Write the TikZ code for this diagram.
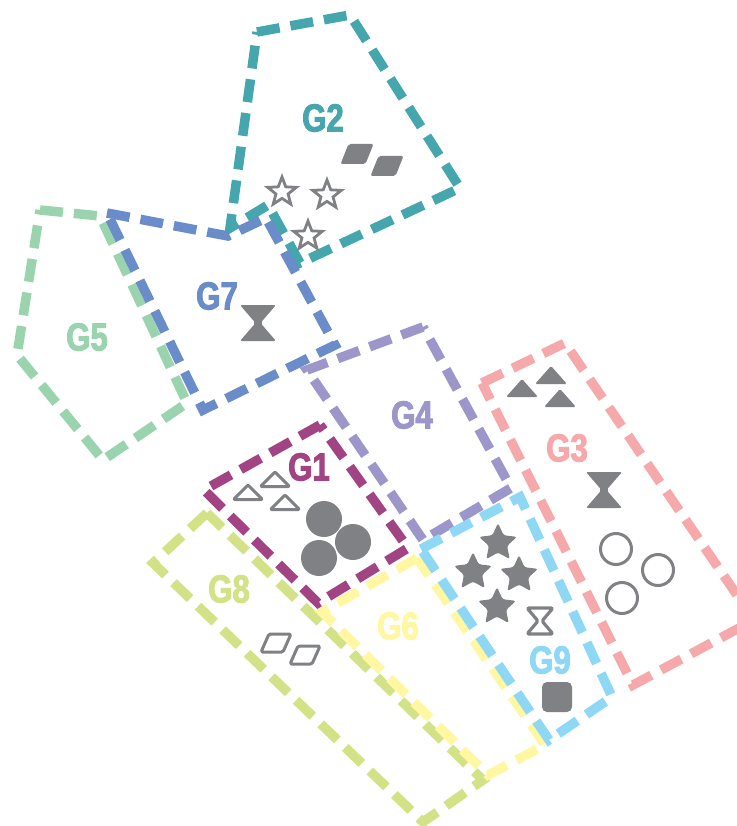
\documentclass[tikz,border=0pt]{standalone}
\usepackage{fontspec}
\setmainfont{Liberation Sans}
\newfontfamily\lblfont[FakeStretch=0.8, BoldFeatures={FakeBold=2.5}]{Liberation Sans}
\usetikzlibrary{shapes.geometric}
\definecolor{cteal}{HTML}{45A6AD}
\definecolor{cblue}{HTML}{6A8CC9}
\definecolor{cgreen}{HTML}{99D4AE}
\definecolor{cpurple}{HTML}{9C96CA}
\definecolor{cpink}{HTML}{F6A9AB}
\definecolor{clblue}{HTML}{8ED8F5}
\definecolor{cyellow}{HTML}{FFF7A1}
\definecolor{clime}{HTML}{D3E287}
\definecolor{cmag}{HTML}{A24484}
\definecolor{cgray}{HTML}{808184}
\begin{document}
\begin{tikzpicture}[x=1pt,y=-1pt,
  grp/.style={line width=9.5pt, dash pattern=on 23pt off 11pt},
  lbl/.style={font=\lblfont\bfseries\fontsize{39}{39}\selectfont, inner sep=0pt},
  fsym/.style={fill=cgray, draw=none},
  osym/.style={draw=cgray, fill=none, line width=3pt},
  hourglass/.pic={\path[pic actions, rounded corners=2pt] (-18,-18) -- (18,-18) -- (2.5,0) -- (18,18) -- (-18,18) -- (-2.5,0) -- cycle;},
  smallhg/.pic={\path[pic actions, rounded corners=1.5pt, line join=round] (-13,-13) -- (13,-13) -- (2,0) -- (13,13) -- (-13,13) -- (-2,0) -- cycle;},
  tri/.pic={\path[pic actions, rounded corners=1.5pt, line join=round] (-16,9) -- (16,9) -- (0,-9) -- cycle;},
  otri/.pic={\path[pic actions, rounded corners=1pt, line join=round] (-14.5,7.5) -- (14.5,7.5) -- (0,-7) -- cycle;},
  para/.pic={\path[pic actions, rounded corners=2pt] (-8.5,-10) -- (16.5,-10) -- (8.5,10) -- (-16.5,10) -- cycle;},
  opara/.pic={\path[pic actions, rounded corners=1.5pt, line join=round] (-7,-9) -- (15,-9) -- (7,9) -- (-15,9) -- cycle;},
  fstar/.style={star, star points=5, star point ratio=2.1, minimum size=40pt, inner sep=0pt, fill=cgray, rounded corners=2.5pt},
  ostar/.style={star, star points=5, star point ratio=2.35, minimum size=30pt, inner sep=0pt, draw=cgray, line width=2.8pt},
  fcirc/.style={circle, minimum size=36pt, inner sep=0pt, fill=cgray},
  ocirc/.style={circle, minimum size=31pt, inner sep=0pt, draw=cgray, line width=3pt}
]
\useasboundingbox (0,0) rectangle (736,826);

% group outlines
\draw[grp, cgreen]  (40,210) -- (100,216) -- (187,403) -- (103,460) -- (17,355) -- cycle;
\draw[grp, cteal]   (257,32) -- (350,15) -- (460,188) -- (300,263) -- (268,205) -- (230,228) -- cycle;
\draw[grp, cblue]   (107,213) -- (228,236) -- (266,218) -- (335,345) -- (203,410) -- cycle;
\draw[grp, cpurple] (423,327) -- (307,370) -- (423,540) -- (511,488) -- cycle;
\draw[grp, cpink]   (482,383) -- (565,343) -- (754,620) -- (633,685) -- cycle;
\draw[grp, clime]   (207,513) -- (153,563) -- (423,822) -- (483,780) -- cycle;
\draw[grp, cyellow] (417,558) -- (322,612) -- (488,775) -- (545,745) -- cycle;
\draw[grp, clblue]  (421,549) -- (520,497) -- (612,697) -- (549,740) -- cycle;
\draw[grp, cmag]    (320,425) -- (204,490) -- (318,603) -- (408,548) -- cycle;

% labels
\node[lbl, text=cteal]   (lg2) at (323,118) {G2};
\node[lbl, text=cblue]   (lg7) at (217,296) {G7};
\node[lbl, text=cgreen]  (lg5) at (87,337) {G5};
\node[lbl, text=cpurple] (lg4) at (412,415) {G4};
\node[lbl, text=cmag]    (lg1) at (309,467) {G1};
\node[lbl, text=clime]   (lg8) at (229,589) {G8};
\node[lbl, text=cyellow] (lg6) at (398,626) {G6};
\node[lbl, text=cpink]   (lg3) at (567,448) {G3};
\node[lbl, text=clblue]  (lg9) at (550,660) {G9};

% G2 symbols
\pic[fsym] at (357,154) {para};
\pic[fsym] at (387,166) {para};
\node[ostar] (s21) at (282,192) {};
\node[ostar] (s22) at (327,195) {};
\node[ostar] (s23) at (308,236) {};

% G7 symbol
\pic[fsym] at (258,323) {hourglass};

% G1 symbols
\pic[osym] at (248,492) {otri};
\pic[osym] at (275,479) {otri};
\pic[osym] at (285,502) {otri};
\node[fcirc] (c11) at (324,519) {};
\node[fcirc] (c12) at (353,542) {};
\node[fcirc] (c13) at (319,558) {};

% G3 symbols
\pic[fsym] at (522,388) {tri};
\pic[fsym] at (551,375) {tri};
\pic[fsym] at (560,398) {tri};
\pic[fsym] at (604,490) {hourglass};
\node[ocirc] (c31) at (616,549) {};
\node[ocirc] (c32) at (658,570) {};
\node[ocirc] (c33) at (622,598) {};

% G9 symbols
\node[fstar] (s91) at (498,543) {};
\node[fstar] (s92) at (473,572) {};
\node[fstar] (s93) at (519,575) {};
\node[fstar] (s94) at (497,607) {};
\pic[osym, line width=3.2pt] at (540,621) {smallhg};
\fill[cgray, rounded corners=5pt] (542,682) rectangle (572,712);

% G8 symbols
\pic[osym] at (276,643) {opara};
\pic[osym] at (305,655) {opara};
\end{tikzpicture}
\end{document}
